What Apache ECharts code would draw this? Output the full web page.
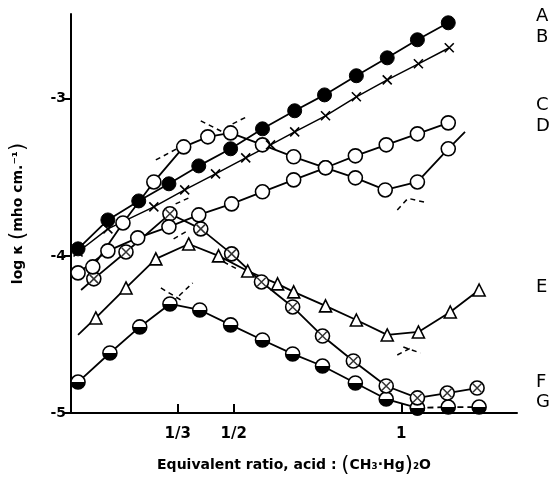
<!DOCTYPE html>
<html>
<head>
<meta charset="utf-8">
<script src="https://cdn.jsdelivr.net/npm/echarts@6.0.0/dist/echarts.min.js"></script>
<style>
  html, body { margin: 0; padding: 0; background: #fff; }
  #chart { width: 554px; height: 481px; }
</style>
</head>
<body>
<div id="chart"></div>
<script>
// curve A - filled circles
var aRatio = [0.036, 0.125, 0.217, 0.307, 0.396, 0.491, 0.586, 0.682, 0.771, 0.866, 0.958, 1.048, 1.140];
var aLogK  = [-3.955, -3.771, -3.650, -3.541, -3.427, -3.318, -3.191, -3.076, -2.975, -2.853, -2.739, -2.624, -2.516];
// curve B - crosses
var bRatio = [0.036, 0.125, 0.262, 0.354, 0.446, 0.536, 0.610, 0.682, 0.774, 0.866, 0.958, 1.051, 1.143];
var bLogK  = [-3.975, -3.828, -3.688, -3.580, -3.478, -3.376, -3.293, -3.210, -3.108, -2.987, -2.879, -2.777, -2.675];
// curve C - open circles, steady rise
var cRatio = [0.036, 0.125, 0.214, 0.307, 0.396, 0.494, 0.586, 0.679, 0.774, 0.863, 0.955, 1.048, 1.140];
var cLogK  = [-4.108, -3.968, -3.885, -3.815, -3.739, -3.669, -3.592, -3.516, -3.439, -3.363, -3.293, -3.223, -3.153];
// curve D - open circles, peak then minimum
var dRatio = [0.080, 0.170, 0.262, 0.351, 0.423, 0.491, 0.586, 0.679, 0.774, 0.863, 0.952, 1.048, 1.140];
var dLogK  = [-4.070, -3.790, -3.529, -3.306, -3.242, -3.217, -3.293, -3.369, -3.439, -3.503, -3.580, -3.529, -3.318];
var dTail  = [1.190, -3.210];
// curve E - open triangles
var eRatio = [0.089, 0.179, 0.268, 0.366, 0.455, 0.542, 0.631, 0.679, 0.774, 0.866, 0.958, 1.051, 1.146, 1.232];
var eLogK  = [-4.395, -4.204, -4.019, -3.924, -4.000, -4.096, -4.178, -4.229, -4.318, -4.408, -4.503, -4.484, -4.357, -4.217];
var eHead  = [0.036, -4.503];
// curve F - crossed circles
var fRatio = [0.083, 0.179, 0.310, 0.402, 0.494, 0.583, 0.676, 0.765, 0.857, 0.955, 1.048, 1.137, 1.226];
var fLogK  = [-4.146, -3.975, -3.732, -3.828, -3.987, -4.166, -4.325, -4.510, -4.669, -4.828, -4.904, -4.873, -4.841];
var fHead  = [0.045, -4.217];
// curve G - half filled circles
var gRatio = [0.036, 0.131, 0.220, 0.310, 0.399, 0.491, 0.586, 0.676, 0.765, 0.863, 0.955, 1.048, 1.140, 1.232];
var gLogK  = [-4.803, -4.618, -4.452, -4.306, -4.344, -4.439, -4.535, -4.624, -4.701, -4.809, -4.911, -4.968, -4.962, -4.962];

// dashed construction lines
var dashSegs = [
  [[0.268, -3.389], [0.336, -3.312]],
  [[0.402, -3.140], [0.473, -3.217]],
  [[0.497, -3.159], [0.545, -3.108]],
  [[0.327, -3.669], [0.366, -3.631]],
  [[0.321, -3.892], [0.357, -3.847]],
  [[0.470, -4.038], [0.515, -4.089]],
  [[0.283, -4.204], [0.342, -4.280]],
  [[0.318, -4.293], [0.378, -4.172]],
  [[0.988, -4.631], [1.033, -4.580]],
  [[1.006, -4.580], [1.057, -4.618]],
  [[0.988, -3.707], [1.021, -3.631]],
  [[1.027, -3.637], [1.077, -3.662]]
];

var xTicks = [1 / 3, 1 / 2, 1];
var xTickText = ['1/3', '1/2', '1'];
var yTicks = [-5, -4, -3];
var curveNames = ['A', 'B', 'C', 'D', 'E', 'F', 'G'];
var curveNameY = [17, 38, 106, 127, 288, 383, 403];

function pairs(xs, ys) {
  return xs.map(function (x, i) { return [x, ys[i]]; });
}

var crossPath = 'path://M0,0L10,10M10,0L0,10';
var black = '#000';
// white top, black bottom
var halfFill = new echarts.graphic.LinearGradient(0, 0, 0, 1, [
  { offset: 0, color: '#fff' }, { offset: 0.5, color: '#fff' },
  { offset: 0.5, color: black }, { offset: 1, color: black }
]);

var chart = echarts.init(document.getElementById('chart'));

var series = [];

dashSegs.forEach(function (s) {
  series.push({
    type: 'line', data: s, symbol: 'none', silent: true,
    lineStyle: { color: black, width: 1.5, type: [5, 4] }
  });
});

function lineSeries(data, opts) {
  var s = {
    type: 'line',
    data: data,
    symbolSize: 14,
    lineStyle: { color: black, width: 1.8 },
    itemStyle: { color: '#fff', borderColor: black, borderWidth: 1.6 }
  };
  for (var k in opts) s[k] = opts[k];
  return s;
}

// G
var gData = pairs(gRatio, gLogK);
series.push(lineSeries(gData.slice(0, 12), {
  symbol: 'circle',
  itemStyle: { color: halfFill, borderColor: black, borderWidth: 1.6 }
}));
series.push({
  type: 'line', data: gData.slice(11), symbol: 'circle', symbolSize: 14,
  lineStyle: { color: black, width: 1.8, type: [6, 4] },
  itemStyle: { color: halfFill, borderColor: black, borderWidth: 1.6 }
});

// F
var fData = [{ value: fHead, symbol: 'none' }].concat(pairs(fRatio, fLogK));
series.push(lineSeries(fData, { symbol: 'circle' }));
series.push({
  type: 'scatter', z: 5, data: pairs(fRatio, fLogK), symbol: crossPath, symbolSize: 8.5,
  itemStyle: { color: 'transparent', borderColor: black, borderWidth: 1.5 }
});

// E
var eData = [{ value: eHead, symbol: 'none' }].concat(pairs(eRatio, eLogK));
series.push(lineSeries(eData, { symbol: 'triangle', symbolSize: 12 }));

// C
series.push(lineSeries(pairs(cRatio, cLogK), { symbol: 'circle' }));

// D
var dData = pairs(dRatio, dLogK).concat([{ value: dTail, symbol: 'none' }]);
series.push(lineSeries(dData, { symbol: 'circle' }));

// B
series.push({
  type: 'line', data: pairs(bRatio, bLogK), symbol: crossPath, symbolSize: 9,
  lineStyle: { color: black, width: 1.5 },
  itemStyle: { color: 'transparent', borderColor: black, borderWidth: 1.6 }
});

// A
series.push(lineSeries(pairs(aRatio, aLogK), {
  symbol: 'circle', symbolSize: 14,
  itemStyle: { color: black, borderColor: black, borderWidth: 1 }
}));

var option = {
  animation: false,
  backgroundColor: '#fff',
  grid: { left: 70, right: 37, top: 14, bottom: 68 },
  xAxis: {
    type: 'value',
    min: 0.015,
    max: 1.345,
    name: '{t|Equivalent ratio, acid : }{p|(}{t|CH₃·Hg}{p|)}{t|₂O}',
    nameLocation: 'middle',
    nameGap: 42,
    nameTextStyle: {
      rich: {
        t: { fontFamily: 'DejaVu Sans', fontSize: 14, color: black, fontWeight: 'bold' },
        p: { fontFamily: 'DejaVu Sans', fontSize: 21, color: black }
      }
    },
    axisLine: { lineStyle: { color: black, width: 2 } },
    axisTick: { inside: true, length: 9, customValues: xTicks, lineStyle: { color: black, width: 2 } },
    axisLabel: {
      customValues: xTicks,
      margin: 14,
      color: black,
      fontFamily: 'DejaVu Sans',
      fontSize: 15,
      fontWeight: 'bold',
      formatter: function (v) {
        for (var i = 0; i < xTicks.length; i++) {
          if (Math.abs(v - xTicks[i]) < 1e-6) return xTickText[i];
        }
        return '';
      }
    },
    splitLine: { show: false }
  },
  yAxis: {
    type: 'value',
    min: -5,
    max: -2.46,
    name: '{t|log κ }{p|(}{t|mho cm.⁻¹}{p|)}',
    nameLocation: 'middle',
    nameRotate: 90,
    nameGap: 42,
    nameTextStyle: {
      rich: {
        t: { fontFamily: 'DejaVu Sans', fontSize: 14, color: black, fontWeight: 'bold' },
        p: { fontFamily: 'DejaVu Sans', fontSize: 21, color: black }
      }
    },
    axisLine: { show: true, lineStyle: { color: black, width: 2 } },
    axisTick: { length: 7, customValues: yTicks, lineStyle: { color: black, width: 2 } },
    axisLabel: {
      customValues: yTicks,
      margin: 5,
      color: black,
      fontFamily: 'DejaVu Sans',
      fontSize: 14,
      fontWeight: 'bold'
    },
    splitLine: { show: false }
  },
  graphic: curveNames.map(function (n, i) {
    return {
      type: 'text', left: 536, top: curveNameY[i] - 10,
      style: { text: n, font: '18px "DejaVu Sans"', fill: black }
    };
  }),
  series: series
};

chart.setOption(option);
</script>
</body>
</html>
